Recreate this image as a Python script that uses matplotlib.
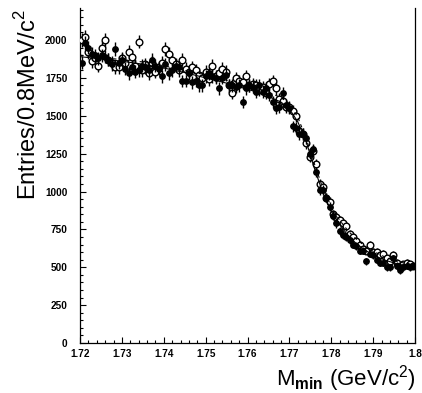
import numpy as np
import matplotlib
matplotlib.use("Agg")
from matplotlib import pyplot as plt
from matplotlib.ticker import MultipleLocator, FixedFormatter, FixedLocator

plt.rcParams['mathtext.fontset'] = 'custom'
plt.rcParams['mathtext.rm'] = 'Liberation Sans'
plt.rcParams['mathtext.bf'] = 'Liberation Sans:bold'

# bin centres, 0.8 MeV bins between 1.72 and 1.80 GeV
mass = np.linspace(1.7204, 1.7996, 100)

filled = [1850, 1980, 1950, 1910, 1900, 1880, 1900, 1890, 1870, 1840,
          1940, 1850, 1870, 1810, 1780, 1820, 1790, 1800, 1830, 1820,
          1800, 1870, 1830, 1810, 1760, 1840, 1780, 1800, 1830, 1820,
          1730, 1730, 1780, 1720, 1730, 1700, 1700, 1760, 1780, 1760,
          1750, 1680, 1750, 1770, 1700, 1700, 1690, 1700, 1590, 1680,
          1700, 1690, 1660, 1700, 1660, 1680, 1640, 1590, 1550, 1560,
          1650, 1570, 1550, 1430, 1420, 1380, 1380, 1350, 1250, 1280,
          1130, 1010, 1010, 960, 900, 840, 790, 740, 710, 700,
          680, 650, 640, 610, 610, 540, 590, 580, 550, 530,
          530, 500, 500, 560, 510, 480, 500, 510, 500, 510]

opened = [2000, 2020, 1920, 1860, 1880, 1830, 1950, 2000, 1870, 1850,
          1820, 1820, 1880, 1850, 1920, 1890, 1830, 1990, 1800, 1840,
          1780, 1850, 1790, 1820, 1850, 1940, 1910, 1870, 1840, 1800,
          1870, 1810, 1790, 1820, 1800, 1770, 1750, 1790, 1740, 1830,
          1760, 1780, 1810, 1790, 1700, 1650, 1750, 1730, 1720, 1760,
          1700, 1710, 1700, 1670, 1690, 1650, 1710, 1730, 1680, 1610,
          1600, 1560, 1560, 1530, 1500, 1400, 1380, 1320, 1230, 1270,
          1180, 1050, 1030, 960, 930, 850, 830, 810, 790, 770,
          720, 700, 670, 650, 620, 610, 650, 600, 600, 580,
          590, 560, 540, 580, 530, 510, 520, 530, 520, 510]

# fitted curves
fit_x = [1.72, 1.725, 1.73, 1.735, 1.74, 1.745, 1.75, 1.755, 1.76, 1.764,
         1.768, 1.770, 1.772, 1.774, 1.776, 1.778, 1.780, 1.782, 1.784,
         1.786, 1.788, 1.790, 1.793, 1.796, 1.80]
fit_filled = [1890, 1875, 1860, 1840, 1815, 1785, 1750, 1715, 1675, 1640,
              1590, 1545, 1460, 1330, 1150, 990, 870, 780, 710,
              655, 615, 580, 545, 520, 500]
fit_open = [1900, 1885, 1870, 1855, 1830, 1800, 1770, 1735, 1695, 1665,
            1620, 1580, 1490, 1350, 1180, 1020, 900, 810, 740,
            685, 640, 605, 565, 535, 515]

fig = plt.figure(figsize=(4.22, 3.93), dpi=100)
ax = fig.add_axes([0.1896, 0.1272, 0.794, 0.852])

ax.errorbar(mass, opened, yerr=np.sqrt(opened), fmt='o', ms=4.8, mfc='white',
            mec='black', mew=1.0, ecolor='black', elinewidth=1.0, capsize=0, zorder=3)
ax.errorbar(mass, filled, yerr=np.sqrt(filled), fmt='o', ms=3.9, mfc='black',
            mec='black', ecolor='black', elinewidth=1.0, capsize=0, zorder=4)
ax.plot(fit_x, fit_filled, color='black', lw=0.8, zorder=5)
ax.plot(fit_x, fit_open, color='black', lw=0.8, ls=(0, (3, 3)), zorder=5)

ax.set_xlim(1.72, 1.80)
ax.set_ylim(0, 2210)
ax.xaxis.set_major_locator(FixedLocator([1.72, 1.73, 1.74, 1.75, 1.76, 1.77, 1.78, 1.79, 1.80]))
ax.xaxis.set_major_formatter(FixedFormatter(["1.72", "1.73", "1.74", "1.75", "1.76",
                                             "1.77", "1.78", "1.79", "1.8"]))
ax.xaxis.set_minor_locator(MultipleLocator(0.002))
ax.yaxis.set_major_locator(MultipleLocator(250))
ax.yaxis.set_minor_locator(MultipleLocator(50))
ax.tick_params(which='both', direction='in', top=False, right=False, width=0.8)
ax.tick_params(which='major', length=4.5, labelsize=7.2)
ax.tick_params(axis='y', which='major', pad=9)
ax.tick_params(axis='x', which='major', pad=4)
ax.tick_params(which='minor', length=2.2)
for lab in ax.get_xticklabels() + ax.get_yticklabels():
    lab.set_fontweight('bold')
    lab.set_family('Liberation Sans')
ax.spines['top'].set_visible(False)
for s in ['left', 'right', 'bottom']:
    ax.spines[s].set_linewidth(0.9)

fig.text(0.066, 0.977, "Entries/0.8MeV/c$^2$", rotation=90, ha='center', va='top',
         fontsize=17, family='Liberation Sans')
fig.text(0.985, 0.038, "M$_{\\mathbf{min}}$ (GeV/c$^2$)", ha='right', va='center',
         fontsize=16, family='Liberation Sans')

fig.savefig("out.png", dpi=100)
